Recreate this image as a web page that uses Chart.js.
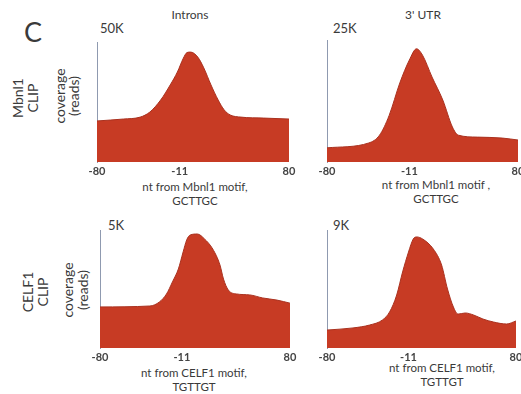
<!DOCTYPE html>
<html lang="en">
<head>
  <meta charset="UTF-8" />
  <title>CLIP coverage</title>
  <script src="https://cdn.jsdelivr.net/npm/chart.js"></script>
<style>
  body {
    margin: 0;
    width: 521px;
    height: 394px;
    background: #fff;
    position: relative;
    overflow: hidden;
    font-family: Lato, 'Open Sans', sans-serif;
    color: #3a3a3a;
  }
  canvas { position: absolute; }
  .t { position: absolute; white-space: nowrap; line-height: 1; }
  .ctr { transform: translate(-50%, -50%); text-align: center; }
  .rot {
    position: absolute;
    transform: translate(-50%, -50%) rotate(-90deg);
    text-align: center;
    white-space: nowrap;
    font-size: 14px;
  }
  .xt { font-size: 11.5px; line-height: 14px; }
  .ymax { font-size: 13px; transform: translateY(-50%); }
</style>
</head>
<body>

  <div class="t" style="left:24px;top:18px;font-size:27px;">C</div>
  <div class="t ctr" style="left:190px;top:15px;font-size:12px;">Introns</div>
  <div class="t ctr" style="left:423px;top:15px;font-size:12px;">3' UTR</div>

  <div class="rot" style="left:25px;top:98px;line-height:15px;">Mbnl1<br>CLIP</div>
  <div class="rot" style="left:67px;top:96px;line-height:14px;">coverage<br>(reads)</div>
  <div class="rot" style="left:35px;top:292px;line-height:15px;">CELF1<br>CLIP</div>
  <div class="rot" style="left:75px;top:290px;line-height:15px;">coverage<br>(reads)</div>

  <div class="t ymax" id="max1" style="left:100px;top:28px;"></div>
  <div class="t ymax" id="max2" style="left:333px;top:28px;"></div>
  <div class="t ymax" id="max3" style="left:108px;top:225px;"></div>
  <div class="t ymax" id="max4" style="left:333px;top:225px;"></div>

  <div class="t ctr xt" style="left:195px;top:194px;">nt from Mbnl1 motif,<br>GCTTGC</div>
  <div class="t ctr xt" style="left:436px;top:192px;">nt from Mbnl1 motif ,<br>GCTTGC</div>
  <div class="t ctr xt" style="left:194px;top:380px;">nt from CELF1 motif,<br>TGTTGT</div>
  <div class="t ctr xt" style="left:442px;top:375px;">nt from CELF1 motif,<br>TGTTGT</div>

  <canvas id="c1" width="222" height="142" style="left:82px;top:40px;"></canvas>
  <canvas id="c2" width="221" height="144" style="left:312px;top:38px;"></canvas>
  <canvas id="c3" width="220" height="140" style="left:85px;top:228px;"></canvas>
  <canvas id="c4" width="219" height="140" style="left:312px;top:228px;"></canvas>

  <script>
    // x ticks shared by all panels (nt from motif)
    const xTicks = [-80, -11, 80];

    // y max of each panel, in thousands of reads
    const yMax = [50, 25, 5, 9];

    // Mbnl1 CLIP, introns
    const mbnlIntronNt = [-80, -58, -44, -36, -27, -19, -13, -8, -5, -2, 4, 9, 15, 21, 26, 31, 40, 59, 80];
    const mbnlIntronK = [17.1, 17.9, 18.7, 20.8, 25.8, 32.1, 37.5, 43.3, 45.6, 45.8, 43.7, 39.2, 32.1, 25.8, 21.7, 19.6, 18.7, 18.3, 17.9];

    // Mbnl1 CLIP, 3' UTR
    const mbnlUtrNt = [-80, -45, -36, -28, -19, -11, -5, 0, 8, 17, 25, 30, 46, 67, 80];
    const mbnlUtrK = [2.9, 3.9, 5.5, 9.5, 16.2, 20.9, 23.2, 21.9, 17.4, 12.7, 7.2, 5.5, 5.1, 4.9, 4.5];

    // CELF1 CLIP, introns
    const celfIntronNt = [-80, -38, -30, -24, -19, -14, -10, -7, -4, 2, 8, 15, 21, 24, 28, 35, 46, 57, 69, 80];
    const celfIntronK = [1.74, 1.78, 1.95, 2.29, 2.80, 3.35, 4.07, 4.58, 4.79, 4.83, 4.62, 4.19, 3.52, 2.92, 2.46, 2.29, 2.25, 2.12, 2.03, 1.9];

    // CELF1 CLIP, 3' UTR
    const celfUtrNt = [-80, -58, -44, -33, -27, -21, -16, -11, -7, -4, 1, 10, 17, 22, 27, 31, 37, 44, 52, 61, 72, 80];
    const celfUtrK = [1.37, 1.53, 1.75, 2.14, 2.75, 4.04, 5.80, 7.32, 8.31, 8.47, 8.31, 7.55, 6.33, 4.50, 3.13, 2.59, 2.67, 2.52, 2.21, 1.98, 1.83, 2.06];

    function panel(id, nt, vals, max) {
      new Chart(document.getElementById(id), {
        type: 'line',
        data: {
          datasets: [{
            data: nt.map((x, i) => ({ x: x, y: vals[i] })),
            fill: 'origin',
            backgroundColor: '#c73b24',
            borderColor: '#a9311f',
            borderWidth: 1,
            pointRadius: 0,
            cubicInterpolationMode: 'monotone'
          }]
        },
        options: {
          responsive: false,
          animation: false,
          layout: { padding: { left: 15, right: 15, top: 2, bottom: 0 } },
          plugins: { legend: { display: false }, tooltip: { enabled: false } },
          scales: {
            x: {
              type: 'linear',
              min: -80,
              max: 80,
              afterBuildTicks: s => { s.ticks = xTicks.map(v => ({ value: v })); },
              afterFit: s => { s.height = 20; },
              grid: { display: false, drawTicks: false },
              border: { display: false },
              ticks: {
                autoSkip: false,
                maxRotation: 0,
                padding: 3,
                color: '#444',
                font: { family: 'Lato', size: 11, weight: 'bold' }
              }
            },
            y: {
              min: 0,
              max: max,
              afterFit: s => { s.width = 0; },
              grid: { display: false, drawTicks: false },
              border: { display: true, color: '#8f9ab0', width: 1 },
              ticks: { display: false }
            }
          }
        }
      });
    }

    panel('c1', mbnlIntronNt, mbnlIntronK, yMax[0]);
    panel('c2', mbnlUtrNt, mbnlUtrK, yMax[1]);
    panel('c3', celfIntronNt, celfIntronK, yMax[2]);
    panel('c4', celfUtrNt, celfUtrK, yMax[3]);

    yMax.forEach((m, i) => {
      document.getElementById('max' + (i + 1)).textContent = m + 'K';
    });
  </script>
</body>
</html>
